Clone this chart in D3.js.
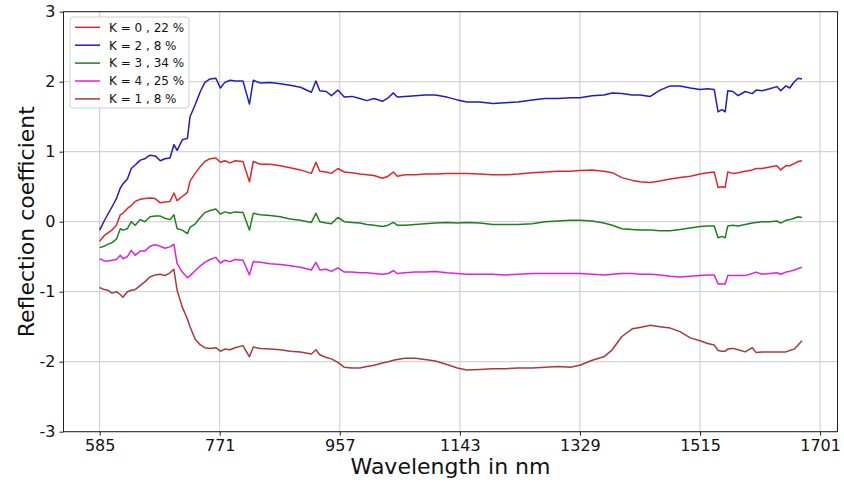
<!DOCTYPE html>
<html>
<head>
<meta charset="utf-8">
<script src="https://cdn.jsdelivr.net/npm/d3@7"></script>
<style>
    body { margin: 0; background: #fff; }
    text { font-family: "DejaVu Sans", sans-serif; }
</style>
</head>
<body>
<svg id="chart"></svg>
<script>
// Wavelengths (nm) shared by all clusters
const wavelengths = [585, 592, 598, 604, 611, 617, 621, 628, 634, 640, 648, 655, 663, 671, 679, 686, 694, 700, 705, 713,
    721, 725, 733, 741, 748, 756, 765, 772, 779, 787, 795, 807, 817, 823, 834, 849, 865, 880, 896, 913,
    920, 926, 936, 944, 954, 964, 976, 988, 999, 1010, 1023, 1032, 1040, 1046, 1058, 1074, 1089, 1105, 1123, 1139,
    1154, 1174, 1194, 1213, 1233, 1255, 1275, 1295, 1314, 1329, 1348, 1366, 1379, 1394, 1410, 1422, 1438, 1453, 1469, 1484,
    1500, 1515, 1527, 1537, 1543, 1549, 1554, 1558, 1566, 1574, 1585, 1596, 1602, 1611, 1623, 1634, 1640, 1648, 1654, 1661,
    1667, 1673];

const k0 = [-0.28, -0.20, -0.16, -0.12, -0.05, 0.10, 0.12, 0.19, 0.23, 0.29, 0.32, 0.33, 0.34, 0.33, 0.27, 0.28, 0.29, 0.41, 0.30, 0.36,
    0.42, 0.58, 0.69, 0.79, 0.86, 0.90, 0.91, 0.85, 0.87, 0.84, 0.87, 0.86, 0.57, 0.86, 0.82, 0.82, 0.80, 0.77, 0.74, 0.69,
    0.85, 0.72, 0.71, 0.69, 0.76, 0.71, 0.70, 0.68, 0.67, 0.66, 0.62, 0.65, 0.71, 0.65, 0.67, 0.67, 0.68, 0.68, 0.69, 0.69,
    0.69, 0.68, 0.67, 0.67, 0.68, 0.70, 0.71, 0.72, 0.72, 0.73, 0.74, 0.72, 0.70, 0.63, 0.59, 0.57, 0.56, 0.58, 0.61, 0.63,
    0.65, 0.68, 0.70, 0.71, 0.49, 0.50, 0.49, 0.71, 0.69, 0.70, 0.72, 0.74, 0.76, 0.76, 0.78, 0.80, 0.74, 0.80, 0.80, 0.83,
    0.86, 0.87];

const k2 = [-0.12, 0.01, 0.11, 0.21, 0.33, 0.48, 0.54, 0.61, 0.76, 0.81, 0.88, 0.90, 0.95, 0.94, 0.87, 0.90, 0.91, 1.10, 1.02, 1.17,
    1.19, 1.50, 1.67, 1.86, 1.99, 2.04, 2.05, 1.91, 1.99, 2.02, 2.01, 2.01, 1.68, 2.02, 1.98, 1.99, 1.97, 1.95, 1.92, 1.85,
    2.01, 1.87, 1.86, 1.80, 1.88, 1.78, 1.79, 1.76, 1.73, 1.76, 1.72, 1.77, 1.84, 1.78, 1.79, 1.80, 1.81, 1.81, 1.78, 1.74,
    1.71, 1.71, 1.69, 1.70, 1.71, 1.74, 1.76, 1.76, 1.77, 1.77, 1.80, 1.81, 1.84, 1.83, 1.81, 1.81, 1.79, 1.88, 1.94, 1.94,
    1.91, 1.89, 1.90, 1.89, 1.57, 1.60, 1.57, 1.87, 1.86, 1.80, 1.86, 1.83, 1.88, 1.87, 1.90, 1.93, 1.87, 1.94, 1.91, 2.00,
    2.05, 2.04];

const k3 = [-0.37, -0.35, -0.32, -0.30, -0.25, -0.10, -0.12, -0.10, 0.00, -0.05, 0.03, 0.00, 0.07, 0.08, 0.08, 0.05, 0.03, 0.10, -0.10, -0.12,
    -0.17, -0.08, -0.03, 0.06, 0.13, 0.16, 0.18, 0.11, 0.14, 0.12, 0.14, 0.13, -0.12, 0.12, 0.10, 0.09, 0.07, 0.04, 0.02, -0.01,
    0.12, 0.00, -0.02, -0.03, 0.06, 0.00, -0.01, -0.02, -0.04, -0.05, -0.07, -0.05, -0.01, -0.05, -0.05, -0.04, -0.03, -0.02, -0.01, -0.02,
    -0.01, -0.02, -0.04, -0.04, -0.04, -0.03, 0.00, 0.01, 0.02, 0.02, 0.01, -0.02, -0.05, -0.10, -0.11, -0.12, -0.12, -0.13, -0.13, -0.11,
    -0.09, -0.07, -0.06, -0.06, -0.23, -0.21, -0.23, -0.06, -0.05, -0.06, -0.04, -0.02, -0.01, 0.00, 0.00, 0.01, -0.02, 0.02, 0.03, 0.05,
    0.07, 0.06];

const k4 = [-0.53, -0.56, -0.56, -0.55, -0.54, -0.48, -0.53, -0.50, -0.41, -0.48, -0.42, -0.42, -0.35, -0.33, -0.35, -0.38, -0.36, -0.32, -0.60, -0.72,
    -0.80, -0.77, -0.70, -0.63, -0.58, -0.54, -0.51, -0.59, -0.55, -0.57, -0.54, -0.55, -0.76, -0.57, -0.58, -0.60, -0.61, -0.63, -0.65, -0.69,
    -0.58, -0.69, -0.68, -0.71, -0.66, -0.72, -0.72, -0.73, -0.73, -0.74, -0.75, -0.74, -0.70, -0.74, -0.73, -0.72, -0.72, -0.71, -0.73, -0.74,
    -0.75, -0.75, -0.75, -0.76, -0.75, -0.74, -0.74, -0.74, -0.74, -0.74, -0.75, -0.76, -0.75, -0.74, -0.74, -0.75, -0.75, -0.76, -0.78, -0.79,
    -0.78, -0.77, -0.76, -0.76, -0.89, -0.89, -0.89, -0.77, -0.77, -0.77, -0.77, -0.74, -0.72, -0.75, -0.74, -0.73, -0.75, -0.72, -0.71, -0.69,
    -0.67, -0.65];

const k1 = [-0.94, -0.97, -0.98, -1.02, -1.00, -1.04, -1.08, -1.00, -0.98, -0.97, -0.91, -0.86, -0.79, -0.76, -0.75, -0.77, -0.73, -0.68, -0.98, -1.22,
    -1.39, -1.50, -1.68, -1.76, -1.80, -1.81, -1.80, -1.85, -1.82, -1.83, -1.80, -1.77, -1.93, -1.79, -1.81, -1.82, -1.83, -1.85, -1.86, -1.89,
    -1.83, -1.90, -1.94, -1.96, -2.01, -2.08, -2.09, -2.09, -2.07, -2.05, -2.02, -2.00, -1.98, -1.97, -1.95, -1.95, -1.97, -1.99, -2.04, -2.09,
    -2.12, -2.11, -2.10, -2.10, -2.09, -2.09, -2.08, -2.07, -2.08, -2.05, -1.98, -1.93, -1.83, -1.64, -1.53, -1.51, -1.48, -1.50, -1.52, -1.57,
    -1.66, -1.70, -1.74, -1.76, -1.84, -1.85, -1.85, -1.82, -1.81, -1.83, -1.86, -1.80, -1.87, -1.86, -1.86, -1.86, -1.86, -1.86, -1.84, -1.82,
    -1.76, -1.70];

// Legend order as in the original plot
const seriesNames = ['K = 0 , 22 %', 'K = 2 , 8 %', 'K = 3 , 34 %', 'K = 4 , 25 %', 'K = 1 , 8 %'];
const seriesValues = [k0, k2, k3, k4, k1];
const seriesColors = ['#e0262a', '#1c1cc8', '#1d801d', '#e020e0', '#a83a3a'];

const xTicks = [585, 771, 957, 1143, 1329, 1515, 1701];
const yTicks = [-3, -2, -1, 0, 1, 2, 3];

const width = 844, height = 484;
const margin = { top: 11.7, right: 6.5, bottom: 52.3, left: 63.5 };

const svg = d3.select('#chart').attr('width', width).attr('height', height);

const xScale = d3.scaleLinear().domain([529, 1728]).range([margin.left, width - margin.right]);
const yScale = d3.scaleLinear().domain([-3, 3]).range([height - margin.bottom, margin.top]);

// Grid lines
svg.append('g')
    .selectAll('line.vgrid')
    .data(xTicks)
    .enter().append('line')
    .attr('x1', d => xScale(d)).attr('x2', d => xScale(d))
    .attr('y1', margin.top).attr('y2', height - margin.bottom)
    .attr('stroke', '#c4c4c4').attr('stroke-width', 0.9);

svg.append('g')
    .selectAll('line.hgrid')
    .data(yTicks)
    .enter().append('line')
    .attr('x1', margin.left).attr('x2', width - margin.right)
    .attr('y1', d => yScale(d)).attr('y2', d => yScale(d))
    .attr('stroke', '#c4c4c4').attr('stroke-width', 0.9);

// Axes
const xAxis = svg.append('g')
    .attr('transform', `translate(0, ${height - margin.bottom})`)
    .call(d3.axisBottom(xScale).tickValues(xTicks).tickSize(4).tickPadding(4).tickFormat(d3.format('d')));

const yAxis = svg.append('g')
    .attr('transform', `translate(${margin.left}, 0)`)
    .call(d3.axisLeft(yScale).tickValues(yTicks).tickSize(4).tickPadding(4).tickFormat(d => d < 0 ? '-' + Math.abs(d) : d));

[xAxis, yAxis].forEach(ax => {
    ax.select('.domain').remove();
    ax.selectAll('text').attr('font-size', 16).attr('fill', '#111').style('font-family', '"DejaVu Sans", sans-serif');
    ax.selectAll('line').attr('stroke', '#222');
});

// Frame
svg.append('rect')
    .attr('x', margin.left).attr('y', margin.top)
    .attr('width', width - margin.left - margin.right)
    .attr('height', height - margin.top - margin.bottom)
    .attr('fill', 'none').attr('stroke', '#222').attr('stroke-width', 1);

// Lines
const line = d3.line()
    .x((d, i) => xScale(wavelengths[i]))
    .y(d => yScale(d));

seriesValues.forEach((vals, i) => {
    svg.append('path')
        .datum(vals)
        .attr('d', line)
        .attr('fill', 'none')
        .attr('stroke', seriesColors[i])
        .attr('stroke-width', 1.5)
        .attr('stroke-linejoin', 'round');
});

// Axis titles
svg.append('text')
    .attr('x', (margin.left + width - margin.right) / 2)
    .attr('y', 474)
    .attr('text-anchor', 'middle')
    .attr('font-size', 22)
    .attr('fill', '#111')
    .text('Wavelength in nm');

svg.append('text')
    .attr('transform', `translate(34, ${(margin.top + height - margin.bottom) / 2}) rotate(-90)`)
    .attr('text-anchor', 'middle')
    .attr('font-size', 22)
    .attr('fill', '#111')
    .text('Reflection coefficient');

// Legend
const legend = svg.append('g').attr('transform', 'translate(70, 17)');

legend.append('rect')
    .attr('width', 119).attr('height', 91)
    .attr('rx', 3)
    .attr('fill', 'rgba(255,255,255,0.85)')
    .attr('stroke', '#d0d0d0');

seriesNames.forEach((name, i) => {
    const y = 10.3 + i * 17.9;
    legend.append('line')
        .attr('x1', 5).attr('x2', 30)
        .attr('y1', y).attr('y2', y)
        .attr('stroke', seriesColors[i]).attr('stroke-width', 1.5);
    legend.append('text')
        .attr('x', 39).attr('y', y + 4.3)
        .attr('font-size', 12)
        .attr('fill', '#111')
        .text(name);
});
</script>
</body>
</html>
